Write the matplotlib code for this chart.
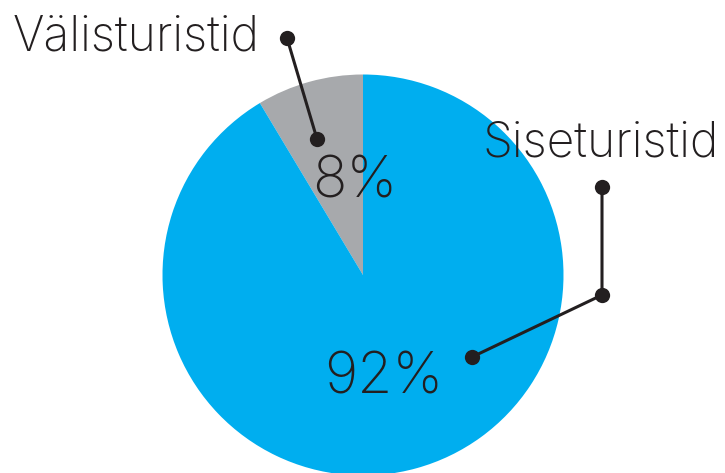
import numpy as np
import matplotlib.pyplot as plt

W, H = 725, 473

# shares (slice angles), labels shown on the chart
categories = ["Välisturistid", "Siseturistid"]
shares = [8.6, 91.4]
pct_labels = ["8%", "92%"]
colors = ["#A7A9AC", "#00AEEF"]

ink = "#231F20"
font = dict(family="Inter", fontweight="light", color=ink)

fig = plt.figure(figsize=(W / 100, H / 100), dpi=100)
ax = fig.add_axes([0, 0, 1, 1])

# y axis runs downward, so the angles are mirrored
cx, cy, r = 363, 275, 200.5
ax.pie(shares, colors=colors, startangle=-90, counterclock=False,
       center=(cx, cy), radius=r, frame=True,
       wedgeprops=dict(linewidth=0))

ax.set_xlim(0, W)
ax.set_ylim(H, 0)
ax.set_aspect("equal")
ax.axis("off")

# percentages
ax.text(355, 182, pct_labels[0], fontsize=41, ha="center", va="center", **font)
ax.text(384, 379, pct_labels[1], fontsize=41, ha="center", va="center", **font)

# category labels
ax.text(13, 50, categories[0], fontsize=34.5, ha="left", va="baseline", **font)
ax.text(482, 156, categories[1], fontsize=34.5, ha="left", va="baseline", **font)

# leader lines
ax.plot([287, 317], [38, 139], color=ink, lw=2.2, solid_capstyle="round")
ax.plot([602, 602, 472], [187, 295, 357], color=ink, lw=2.2,
        solid_joinstyle="round")
ax.plot([287, 317, 602, 602, 472], [38, 139, 187, 295, 357], "o",
        color=ink, ms=11, mew=0)

fig.savefig("out.png", dpi=100)
